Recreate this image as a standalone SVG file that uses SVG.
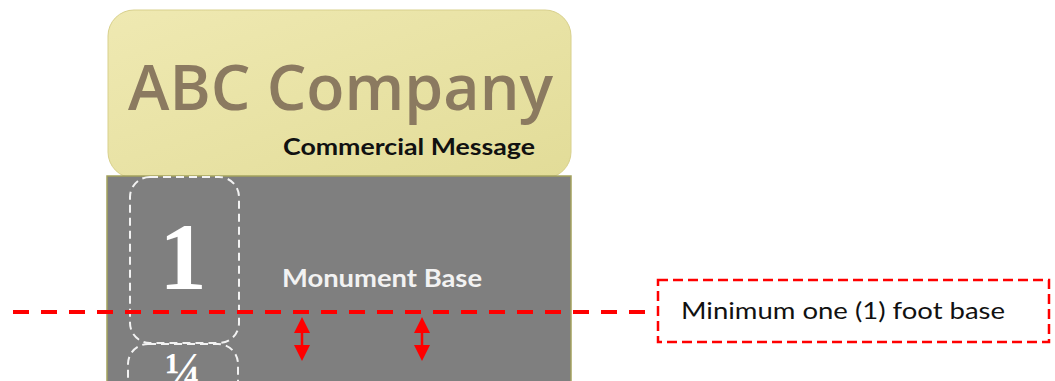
<svg xmlns="http://www.w3.org/2000/svg" width="1055" height="381" viewBox="0 0 1055 381">
<style>
.white-dash{fill:none;stroke:#f2f2f2;stroke-width:2;stroke-dasharray:8 5}
.red-dash{fill:none;stroke:#ff0000;stroke-width:4;stroke-dasharray:16 12}
.red-box{fill:#ffffff;stroke:#ff0000;stroke-width:2.5;stroke-dasharray:10 5}
.arrow{stroke:#ff0000;stroke-width:2.5;marker-start:url(#ah);marker-end:url(#ah)}
.sans{font-family:Lato,"Open Sans","Liberation Sans",sans-serif}
.serif{font-family:"Liberation Serif","DejaVu Serif",serif;font-weight:bold;fill:#ffffff}
</style>
<defs>
<linearGradient id="yg" x1="0" y1="0" x2="1" y2="1">
<stop offset="0" stop-color="#efe9b2"/>
<stop offset="1" stop-color="#e2dc98"/>
</linearGradient>
<marker id="ah" viewBox="0 0 16 16" refX="2" refY="8" markerWidth="16" markerHeight="16" markerUnits="userSpaceOnUse" orient="auto-start-reverse">
<path d="M0,0 L16,8 L0,16 Z" fill="#ff0000"/>
</marker>
</defs>
<rect width="1055" height="381" fill="#ffffff"/>
<g id="sign">
<rect x="108" y="10" width="463" height="168" rx="26" ry="26" fill="url(#yg)" stroke="#d8d08c" stroke-width="1"/>
<text x="128" y="110" font-size="63" font-weight="600" fill="#8b7a60" textLength="425" lengthAdjust="spacingAndGlyphs" style="font-family:'Open Sans','Noto Sans',sans-serif">ABC Company</text>
<text x="283" y="155" class="sans" font-size="22" font-weight="bold" fill="#111111" textLength="252" lengthAdjust="spacingAndGlyphs">Commercial Message</text>
</g>
<g id="base">
<rect x="107" y="176" width="464" height="215" fill="#7f7f7f" stroke="#a4a25e" stroke-width="1.5"/>
<text x="282" y="287" class="sans" font-size="24" font-weight="bold" fill="#f2f2f2" textLength="200" lengthAdjust="spacingAndGlyphs">Monument Base</text>
</g>
<g id="height-one">
<rect x="130" y="177" width="109" height="166" rx="20" ry="20" class="white-dash"/>
<text x="183" y="289" class="serif" font-size="95" text-anchor="middle">1</text>
</g>
<g id="height-quarter">
<rect x="128" y="344" width="110" height="60" rx="20" ry="20" class="white-dash"/>
<text x="183" y="386" class="serif" font-size="48" text-anchor="middle">¼</text>
</g>
<g id="connectors">
<line x1="13" y1="312" x2="645" y2="312" class="red-dash"/>
<line x1="302" y1="331" x2="302" y2="347" class="arrow"/>
<line x1="422" y1="331" x2="422" y2="347" class="arrow"/>
</g>
<g id="note">
<rect x="658" y="280" width="391" height="62" class="red-box"/>
<text x="681" y="319" class="sans" font-size="23" fill="#111111" textLength="324" lengthAdjust="spacingAndGlyphs">Minimum one (1) foot base</text>
</g>
</svg>
